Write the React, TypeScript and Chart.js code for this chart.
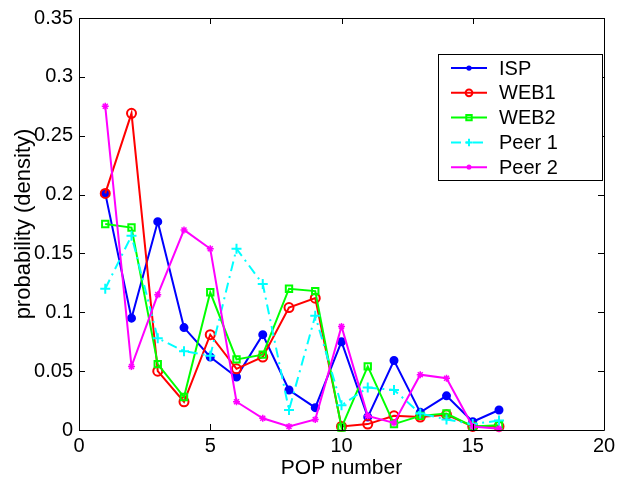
import React, { useEffect, useRef } from "react";
import { Chart, registerables } from "chart.js";

Chart.register(...registerables);

// POP index on the x axis
const popNumbers = [1, 2, 3, 4, 5, 6, 7, 8, 9, 10, 11, 12, 13, 14, 15, 16];

// probability density per POP for each traffic source
const ispValues = [0.201, 0.095, 0.177, 0.087, 0.062, 0.045, 0.081, 0.034, 0.019, 0.075, 0.011, 0.059, 0.015, 0.029, 0.007, 0.017];
const web1Values = [0.201, 0.269, 0.05, 0.024, 0.081, 0.052, 0.062, 0.104, 0.112, 0.003, 0.005, 0.012, 0.011, 0.013, 0.003, 0.003];
const web2Values = [0.175, 0.172, 0.056, 0.028, 0.117, 0.06, 0.064, 0.12, 0.118, 0.002, 0.054, 0.005, 0.012, 0.014, 0.003, 0.004];
const peer1Values = [0.12, 0.165, 0.078, 0.067, 0.063, 0.154, 0.124, 0.017, 0.097, 0.021, 0.036, 0.034, 0.014, 0.009, 0.005, 0.008];
const peer2Values = [0.275, 0.054, 0.115, 0.17, 0.154, 0.024, 0.01, 0.003, 0.009, 0.088, 0.012, 0.006, 0.047, 0.044, 0.003, 0.001];

const seriesNames = ["ISP", "WEB1", "WEB2", "Peer 1", "Peer 2"];

const xTickLabels = ["0", "5", "10", "15", "20"];
const yTickLabels = ["0", "0.05", "0.1", "0.15", "0.2", "0.25", "0.3", "0.35"];

const FONT = "'Liberation Sans', Arial, Helvetica, sans-serif";

type Style = {
  color: string;
  pointStyle: string;
  radius: number;
  markerWidth: number;
  filled: boolean;
  dash: number[];
};

const styles: Style[] = [
  { color: "#0000ff", pointStyle: "circle", radius: 3.5, markerWidth: 2, filled: true, dash: [] },
  { color: "#ff0000", pointStyle: "circle", radius: 4.5, markerWidth: 2, filled: false, dash: [] },
  { color: "#00ff00", pointStyle: "rect", radius: 4.5, markerWidth: 2, filled: false, dash: [] },
  { color: "#00ffff", pointStyle: "cross", radius: 5, markerWidth: 2, filled: false, dash: [10, 5, 2, 5] },
  { color: "#ff00ff", pointStyle: "star", radius: 3.5, markerWidth: 1.5, filled: false, dash: [] },
];

const seriesValues = [ispValues, web1Values, web2Values, peer1Values, peer2Values];

function drawMarker(ctx: CanvasRenderingContext2D, s: Style, x: number, y: number) {
  ctx.save();
  ctx.setLineDash([]);
  ctx.strokeStyle = s.color;
  ctx.fillStyle = s.color;
  ctx.lineWidth = s.markerWidth;
  const r = s.radius;
  ctx.beginPath();
  if (s.pointStyle === "circle") {
    ctx.arc(x, y, r, 0, Math.PI * 2);
    if (s.filled) ctx.fill();
    else ctx.stroke();
  } else if (s.pointStyle === "rect") {
    ctx.rect(x - r * 0.8, y - r * 0.8, r * 1.6, r * 1.6);
    ctx.stroke();
  } else if (s.pointStyle === "cross") {
    ctx.moveTo(x - r, y);
    ctx.lineTo(x + r, y);
    ctx.moveTo(x, y - r);
    ctx.lineTo(x, y + r);
    ctx.stroke();
  } else {
    ctx.moveTo(x - r, y);
    ctx.lineTo(x + r, y);
    ctx.moveTo(x, y - r);
    ctx.lineTo(x, y + r);
    const d = r * 0.7;
    ctx.moveTo(x - d, y - d);
    ctx.lineTo(x + d, y + d);
    ctx.moveTo(x - d, y + d);
    ctx.lineTo(x + d, y - d);
    ctx.stroke();
  }
  ctx.restore();
}

// frame, inward ticks, axis titles and legend box
const framePlugin = {
  id: "matlabFrame",
  afterDraw(chart: any) {
    const { ctx, chartArea } = chart;
    const { left, right, top, bottom } = chartArea;
    const xs = chart.scales.x;
    const ys = chart.scales.y;
    ctx.save();
    ctx.strokeStyle = "#000";
    ctx.lineWidth = 1;
    ctx.setLineDash([]);
    ctx.beginPath();
    ctx.rect(Math.round(left) + 0.5, Math.round(top) + 0.5, Math.round(right - left), Math.round(bottom - top));
    ctx.stroke();

    const tl = 6;
    ctx.beginPath();
    xTickLabels.forEach((t) => {
      const px = Math.round(xs.getPixelForValue(Number(t))) + 0.5;
      ctx.moveTo(px, bottom);
      ctx.lineTo(px, bottom - tl);
      ctx.moveTo(px, top);
      ctx.lineTo(px, top + tl);
    });
    yTickLabels.forEach((t) => {
      const py = Math.round(ys.getPixelForValue(Number(t))) + 0.5;
      ctx.moveTo(left, py);
      ctx.lineTo(left + tl, py);
      ctx.moveTo(right, py);
      ctx.lineTo(right - tl, py);
    });
    ctx.stroke();

    // axis titles
    ctx.fillStyle = "#000";
    ctx.font = `21px ${FONT}`;
    ctx.textAlign = "center";
    ctx.textBaseline = "alphabetic";
    ctx.fillText("POP number", (left + right) / 2, 474);
    ctx.save();
    ctx.translate(30, (top + bottom) / 2);
    ctx.rotate(-Math.PI / 2);
    ctx.font = `22px ${FONT}`;
    ctx.fillText("probability (density)", 0, 0);
    ctx.restore();

    // legend
    const lx = 438.5;
    const ly = 54.5;
    const lw = 164;
    const lh = 126;
    ctx.fillStyle = "#fff";
    ctx.fillRect(lx, ly, lw, lh);
    ctx.strokeStyle = "#000";
    ctx.lineWidth = 1;
    ctx.strokeRect(lx, ly, lw, lh);
    ctx.font = `20px ${FONT}`;
    ctx.textAlign = "left";
    ctx.textBaseline = "middle";
    seriesNames.forEach((name, i) => {
      const s = styles[i];
      const cy = 68 + i * 24.8;
      ctx.save();
      ctx.strokeStyle = s.color;
      ctx.lineWidth = 2;
      ctx.setLineDash(s.dash);
      ctx.beginPath();
      ctx.moveTo(451, cy);
      ctx.lineTo(487, cy);
      ctx.stroke();
      ctx.restore();
      drawMarker(ctx, { ...s, radius: s.radius * 0.75 }, 469, cy);
      ctx.fillStyle = "#000";
      ctx.fillText(name, 499, cy + 1);
    });
    ctx.restore();
  },
};

export default function App() {
  const canvasRef = useRef<HTMLCanvasElement | null>(null);

  useEffect(() => {
    document.body.style.margin = "0";
    const canvas = canvasRef.current;
    if (!canvas) return;

    const datasets = seriesNames.map((name, i) => {
      const s = styles[i];
      return {
        label: name,
        data: popNumbers.map((x, j) => ({ x, y: seriesValues[i][j] })),
        showLine: true,
        borderColor: s.color,
        backgroundColor: s.filled ? s.color : "rgba(0,0,0,0)",
        borderWidth: 2,
        borderDash: s.dash,
        pointStyle: s.pointStyle,
        pointRadius: s.radius,
        pointBorderWidth: s.markerWidth,
        pointBorderColor: s.color,
        pointBackgroundColor: s.filled ? s.color : "rgba(0,0,0,0)",
        tension: 0,
        order: seriesNames.length - i,
        clip: false as any,
      };
    });

    const chart = new Chart(canvas, {
      type: "scatter",
      data: { datasets: datasets as any },
      plugins: [framePlugin],
      options: {
        animation: false,
        responsive: false,
        devicePixelRatio: 1,
        layout: { padding: { left: 0, top: 13, right: 26, bottom: 0 } },
        plugins: {
          legend: { display: false },
          tooltip: { enabled: false },
        },
        scales: {
          x: {
            type: "linear",
            min: 0,
            max: 20,
            afterFit: (scale: any) => {
              scale.height = 48;
            },
            afterBuildTicks: (scale: any) => {
              scale.ticks = xTickLabels.map((t) => ({ value: Number(t) }));
            },
            ticks: {
              color: "#000",
              font: { family: FONT, size: 20 },
              padding: 4,
              callback: (v: any) => xTickLabels.find((t) => Number(t) === v) ?? "",
              maxRotation: 0,
              autoSkip: false,
            },
            grid: { display: false, drawTicks: false },
            border: { display: false },
          },
          y: {
            type: "linear",
            min: 0,
            max: 0.35,
            afterFit: (scale: any) => {
              scale.width = 79;
            },
            afterBuildTicks: (scale: any) => {
              scale.ticks = yTickLabels.map((t) => ({ value: Number(t) }));
            },
            ticks: {
              color: "#000",
              font: { family: FONT, size: 20 },
              padding: 6,
              callback: (v: any) => yTickLabels.find((t) => Math.abs(Number(t) - v) < 1e-9) ?? "",
              autoSkip: false,
            },
            grid: { display: false, drawTicks: false },
            border: { display: false },
          },
        },
      },
    });

    return () => chart.destroy();
  }, []);

  return (
    <div style={{ width: 630, height: 478 }}>
      <canvas ref={canvasRef} width={630} height={478} style={{ display: "block" }} />
    </div>
  );
}
